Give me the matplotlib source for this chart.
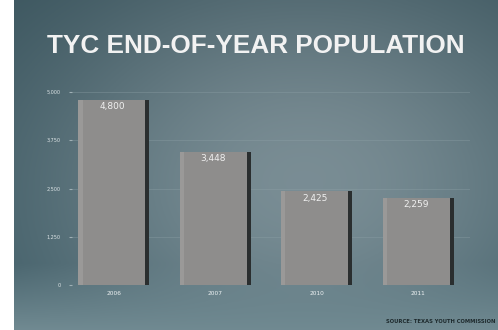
import numpy as np
import matplotlib
matplotlib.use('Agg')
import matplotlib.pyplot as plt

# TYC end-of-year population
years = ['2006', '2007', '2010', '2011']
population = [4800, 3448, 2425, 2259]
value_labels = ['4,800', '3,448', '2,425', '2,259']
y_ticks = [0, 1250, 2500, 3750, 5000]
y_tick_labels = ['0', '1,250', '2,500', '3,750', '5,000']

W, H = 498, 330
fig = plt.figure(figsize=(W / 100, H / 100), dpi=100)
fig.patch.set_facecolor('white')

# backdrop gradient (teal on the left, lighter grey towards centre, floor at bottom)
bg = fig.add_axes([14 / W, 0, 1 - 14 / W, 1])
gx, gy = np.meshgrid(np.linspace(0, 1, 300), np.linspace(0, 1, 200))
glow = np.exp(-(((gx - 0.6) / 0.6) ** 2 + ((gy - 0.5) / 0.65) ** 2))
dark = np.array([0.22, 0.34, 0.38])
light = np.array([0.50, 0.58, 0.61])
img = dark + (light - dark) * glow[..., None]
img = img * (1 - 0.10 * (gy[..., None]))
floor = np.clip((0.2 - gy) / 0.2, 0, 1)[..., None]
floor_col = np.array([0.44, 0.54, 0.57])
img = img * (1 - floor) + floor_col * floor
bg.imshow(img, aspect='auto', extent=[0, 1, 0, 1], origin='lower')
bg.axis('off')

fig.text(0.514, 0.862, 'TYC END-OF-YEAR POPULATION', color='#f2f2f2',
         fontsize=18.8, family='Liberation Sans', weight='bold',
         ha='center', va='center')

ax = fig.add_axes([72 / W, 45 / H, (470 - 72) / W, (285 - 92) / H])
ax.patch.set_alpha(0)
x = np.arange(len(years))
w = 0.70
ax.bar(x, population, width=w, color='#8e8d8c', zorder=3)
# dark side face for the 3D look
ax.bar(x + w / 2 - 0.02, population, width=0.04, color='#2a2e2f', zorder=3)
ax.bar(x - w / 2 + 0.02, population, width=0.04, color='#9a9998', zorder=3)

for xi, v, lab in zip(x, population, value_labels):
    ax.text(xi - 0.02, v - 60, lab, color='#f0f0f0', fontsize=6.5, ha='center', va='top', zorder=4)

ax.set_xlim(-0.414, 3.51)
ax.set_ylim(0, 5000)
ax.set_yticks(y_ticks)
ax.set_yticklabels(y_tick_labels, fontsize=3.5, color='#dfe6e8')
ax.set_xticks(x)
ax.set_xticklabels(years, fontsize=4.2, color='#eef2f3')
ax.tick_params(axis='y', length=2, color='#9fb0b5', pad=6)
ax.tick_params(axis='x', length=0, pad=4)
ax.grid(axis='y', color='#8fa2a8', linewidth=0.5, alpha=0.5, zorder=0)
for s in ax.spines.values():
    s.set_visible(False)

fig.text(0.995, 0.025, 'SOURCE: TEXAS YOUTH COMMISSION', color='#1e2a2d',
         fontsize=3.8, weight='bold', ha='right', va='center')

plt.savefig('out.png', dpi=100)
